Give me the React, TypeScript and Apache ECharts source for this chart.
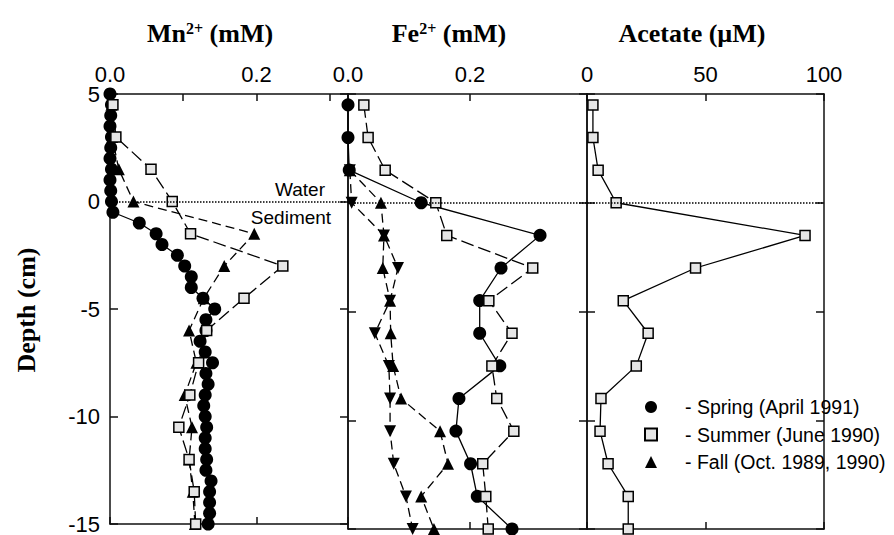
import React, { useEffect, useRef } from "react";
import * as echarts from "echarts";

const SANS = "'Liberation Sans', Arial, sans-serif";
const SERIF = "'Liberation Serif', 'Times New Roman', serif";

// depths (cm)
const DEPTH_FULL = [5, 4.5, 4, 3.5, 3, 2.5, 2, 1.5, 1, 0.5, 0, -0.5, -1, -1.5, -2, -2.5, -3, -3.5, -4, -4.5, -5, -5.5, -6, -6.5, -7, -7.5, -8, -8.5, -9, -9.5, -10, -10.5, -11, -11.5, -12, -12.5, -13, -13.5, -14, -14.5, -15];
const DEPTH_STD = [4.5, 3, 1.5, 0, -1.5, -3, -4.5, -6, -7.5, -9, -10.5, -12, -13.5, -15];
const DEPTH_FE_FALL = [1.5, 0, -1.5, -3, -4.5, -6, -7.5, -9, -10.5, -12, -13.5, -15];

// Mn2+ (mM)
const MN_SPRING = [0.0, 0.002, 0.001, 0.0, 0.002, 0.001, 0.0, 0.002, 0.0, 0.001, 0.002, 0.004, 0.04, 0.063, 0.071, 0.092, 0.102, 0.111, 0.111, 0.127, 0.143, 0.131, 0.131, 0.123, 0.13, 0.14, 0.131, 0.134, 0.13, 0.128, 0.13, 0.132, 0.13, 0.13, 0.132, 0.131, 0.138, 0.136, 0.136, 0.136, 0.134];
const MN_SUMMER = [0.004, 0.008, 0.056, 0.085, 0.11, 0.236, 0.183, 0.132, 0.121, 0.109, 0.094, 0.108, 0.115, 0.117];
const MN_FALL = [0.002, 0.003, 0.012, 0.032, 0.197, 0.156, 0.128, 0.108, 0.118, 0.102, 0.112, 0.108, 0.113, 0.116];

// Fe2+ (mM)
const FE_SPRING = [0.0, 0.0, 0.002, 0.12, 0.315, 0.251, 0.216, 0.216, 0.249, 0.182, 0.177, 0.201, 0.212, 0.269];
const FE_SUMMER = [0.026, 0.033, 0.061, 0.144, 0.162, 0.303, 0.231, 0.269, 0.236, 0.244, 0.272, 0.221, 0.226, 0.23];
const FE_FALL_A = [0.003, 0.054, 0.059, 0.057, 0.069, 0.07, 0.074, 0.087, 0.151, 0.164, 0.12, 0.141];
const FE_FALL_B = [0.003, 0.006, 0.059, 0.082, 0.069, 0.044, 0.067, 0.069, 0.069, 0.075, 0.095, 0.106];

// Acetate (uM)
const AC_SUMMER = [2.5, 2.5, 4.7, 12.3, 92, 45.8, 15.3, 25.8, 20.8, 5.9, 5.5, 8.9, 17.4, 17.4];

const LEGEND_NAMES = ["Spring", "Summer", "Fall"];
const LEGEND_LABELS = ["- Spring (April 1991)", "- Summer (June 1990)", "- Fall (Oct. 1989, 1990)"];

const zip = (vals: number[], depths: number[]) => vals.map((v, i) => [v, depths[i]]);

const AX = "#111";

function xTop(gridIndex: number, max: number, interval: number, formatter: (v: number) => string) {
  return {
    type: "value", gridIndex, position: "top", min: 0, max, interval,
    axisLine: { show: true, onZero: false, lineStyle: { color: AX, width: 1.5 } },
    axisTick: { show: true, inside: true, length: 7, lineStyle: { color: AX, width: 1.5 } },
    axisLabel: { show: true, margin: 9, formatter, fontSize: 22, fontFamily: SANS, color: "#000" },
    splitLine: { show: false },
  };
}
function xBottom(gridIndex: number, max: number, interval: number) {
  return {
    type: "value", gridIndex, position: "bottom", min: 0, max, interval,
    axisLine: { show: true, onZero: false, lineStyle: { color: AX, width: 1.5 } },
    axisTick: { show: true, inside: true, length: 7, lineStyle: { color: AX, width: 1.5 } },
    axisLabel: { show: false },
    splitLine: { show: false },
  };
}
function yAx(gridIndex: number, position: string, labels: boolean) {
  return {
    type: "value", gridIndex, position, min: -15, max: 5, interval: 5,
    axisLine: { show: true, onZero: false, lineStyle: { color: AX, width: 1.5 } },
    axisTick: { show: true, inside: true, length: 8, lineStyle: { color: AX, width: 1.5 } },
    axisLabel: { show: labels, margin: 10, fontSize: 22, fontFamily: SANS, color: "#000" },
    splitLine: { show: false },
  };
}

const near = (a: number, b: number) => Math.abs(a - b) < 1e-9;

const zeroLine = {
  silent: true,
  symbol: "none",
  label: { show: false },
  lineStyle: { type: "dotted", color: "#000", width: 1.5 },
  data: [{ yAxis: 0 }],
};

function circleSeries(name: string, xi: number, data: number[][], extra: any = {}) {
  return {
    type: "line", name, xAxisIndex: xi, yAxisIndex: xi, data,
    symbol: "circle", symbolSize: 13, showSymbol: true, showAllSymbol: true,
    itemStyle: { color: "#000" },
    lineStyle: { color: "#000", width: 1.3, type: "solid" },
    ...extra,
  };
}
function squareSeries(name: string, xi: number, data: number[][], dashed: boolean, extra: any = {}) {
  return {
    type: "line", name, xAxisIndex: xi, yAxisIndex: xi, data,
    symbol: "rect", symbolSize: 10, showSymbol: true, showAllSymbol: true,
    itemStyle: { color: "#e6e6e6", borderColor: "#000", borderWidth: 1.5 },
    lineStyle: { color: "#000", width: 1.3, type: dashed ? [13, 5] : "solid" },
    ...extra,
  };
}
function triSeries(name: string, xi: number, data: number[][], down: boolean) {
  return {
    type: "line", name, xAxisIndex: xi, yAxisIndex: xi, data,
    symbol: "triangle", symbolSize: 12, symbolRotate: down ? 180 : 0, showSymbol: true, showAllSymbol: true,
    itemStyle: { color: "#000" },
    lineStyle: { color: "#000", width: 1.3, type: [9, 5] },
  };
}

export default function App() {
  const ref = useRef<HTMLDivElement>(null);
  useEffect(() => {
    if (!ref.current) return;
    const chart = echarts.init(ref.current, undefined, { renderer: "svg" });
    const option: any = {
      animation: false,
      backgroundColor: "#fff",
      grid: [
        { left: 110, top: 94, width: 238, height: 435 },
        { left: 348, top: 94, width: 239, height: 435 },
        { left: 587, top: 94, width: 237, height: 435 },
      ],
      xAxis: [
        xTop(0, 0.325, 0.1, (v: number) => (near(v, 0) ? "0.0" : near(v, 0.2) ? "0.2" : "")),
        xBottom(0, 0.325, 0.2),
        xTop(1, 0.392, 0.2, (v: number) => (near(v, 0) ? "0.0" : near(v, 0.2) ? "0.2" : "")),
        xBottom(1, 0.392, 0.2),
        xTop(2, 100, 50, (v: number) => String(v)),
        xBottom(2, 100, 50),
      ],
      yAxis: [
        yAx(0, "left", true),
        yAx(0, "right", false),
        yAx(1, "left", false),
        yAx(1, "right", false),
        yAx(2, "left", false),
        yAx(2, "right", false),
      ],
      legend: {
        orient: "vertical",
        left: 644,
        top: 397,
        itemWidth: 12,
        itemHeight: 12,
        itemGap: 7.5,
        padding: 0,
        selectedMode: false,
        data: [
          { name: LEGEND_NAMES[0], icon: "circle" },
          { name: LEGEND_NAMES[1], icon: "rect" },
          { name: LEGEND_NAMES[2], icon: "triangle" },
        ],
        formatter: (n: string) => "{t|" + LEGEND_LABELS[LEGEND_NAMES.indexOf(n)] + "}",
        textStyle: {
          fontFamily: SANS, fontSize: 19.5, color: "#000", lineHeight: 20,
          rich: { t: { fontFamily: SANS, fontSize: 19.5, color: "#000", lineHeight: 20, padding: [0, 0, 0, 23] } },
        },
      },
      series: [
        // Mn panel
        circleSeries("Spring", 0, zip(MN_SPRING, DEPTH_FULL), { markLine: zeroLine }),
        triSeries("Fall", 0, zip(MN_FALL, DEPTH_STD), false),
        squareSeries("Summer", 0, zip(MN_SUMMER, DEPTH_STD), true),
        // Fe panel
        circleSeries("Spring", 2, zip(FE_SPRING, DEPTH_STD), { markLine: zeroLine }),
        triSeries("Fall", 2, zip(FE_FALL_A, DEPTH_FE_FALL), false),
        triSeries("Fall (down)", 2, zip(FE_FALL_B, DEPTH_FE_FALL), true),
        squareSeries("Summer", 2, zip(FE_SUMMER, DEPTH_STD), true),
        // Acetate panel
        squareSeries("Summer", 4, zip(AC_SUMMER, DEPTH_STD), false, { markLine: zeroLine }),
      ],
      graphic: [
        {
          type: "text", x: 210, y: 33,
          style: {
            text: "{b|Mn}{s|2+}{b| (mM)}", align: "center", verticalAlign: "middle", fill: "#000",
            rich: {
              b: { fontFamily: SERIF, fontWeight: "bold", fontSize: 26, lineHeight: 30 },
              s: { fontFamily: SERIF, fontWeight: "bold", fontSize: 16, lineHeight: 18, verticalAlign: "top", padding: [2, 0, 0, 0] },
            },
          },
        },
        {
          type: "text", x: 449, y: 33,
          style: {
            text: "{b|Fe}{s|2+}{b| (mM)}", align: "center", verticalAlign: "middle", fill: "#000",
            rich: {
              b: { fontFamily: SERIF, fontWeight: "bold", fontSize: 26, lineHeight: 30 },
              s: { fontFamily: SERIF, fontWeight: "bold", fontSize: 16, lineHeight: 18, verticalAlign: "top", padding: [2, 0, 0, 0] },
            },
          },
        },
        {
          type: "text", x: 692, y: 33,
          style: { text: "Acetate (\u00b5M)", align: "center", verticalAlign: "middle", fill: "#000", font: "bold 26px " + SERIF },
        },
        {
          type: "text", x: 26, y: 310, rotation: Math.PI / 2,
          style: { text: "Depth (cm)", align: "center", verticalAlign: "middle", fill: "#000", font: "bold 26px " + SERIF },
        },
        {
          type: "text", x: 300, y: 189,
          style: { text: "Water", align: "center", verticalAlign: "middle", fill: "#000", font: "19px " + SANS },
        },
        {
          type: "text", x: 291, y: 217,
          style: { text: "Sediment", align: "center", verticalAlign: "middle", fill: "#000", font: "19px " + SANS },
        },
      ],
    };
    chart.setOption(option);
    return () => chart.dispose();
  }, []);
  return (
    <div
      ref={ref}
      style={{ position: "fixed", left: 0, top: 0, width: 894, height: 535, background: "#fff" }}
    />
  );
}
